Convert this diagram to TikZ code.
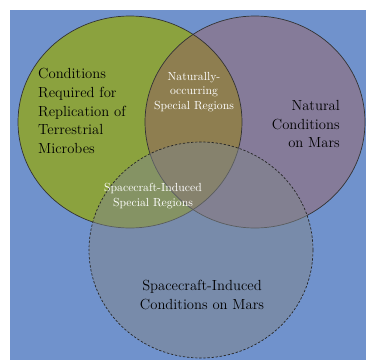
\documentclass[tikz,border=0pt]{standalone}
\definecolor{bgblue}{RGB}{112,146,204}
\definecolor{microbegreen}{RGB}{139,162,62}
\definecolor{marspurple}{RGB}{133,123,153}
\definecolor{overlapbrown}{RGB}{142,126,80}
\definecolor{craftgrey}{RGB}{128,134,138}

\begin{document}
\begin{tikzpicture}[x=0.03cm, y=-0.03cm,
  outerlabel/.style={inner sep=0pt, font=\fontsize{12.5}{16}\selectfont},
  innerlabel/.style={inner sep=0pt, text=white, align=center, font=\fontsize{10}{12.5}\selectfont}]
\useasboundingbox (0,0) rectangle (366,360);
\fill[white] (0,0) rectangle (366,360);
\fill[bgblue] (10,10) rectangle (366,360);

\coordinate (greenc) at (130,122);
\coordinate (purplec) at (255,122);
\coordinate (marsc) at (201,250);

% the two upper sets
\fill[microbegreen] (greenc) ellipse [x radius=112, y radius=106];
\fill[marspurple] (purplec) ellipse [x radius=110, y radius=106];
\begin{scope}
\clip (greenc) ellipse [x radius=112, y radius=106];
\fill[overlapbrown] (purplec) ellipse [x radius=110, y radius=106];
\end{scope}
\draw[black!80, line width=0.6pt] (greenc) ellipse [x radius=112, y radius=106];
\draw[black!80, line width=0.6pt] (purplec) ellipse [x radius=110, y radius=106];

% spacecraft set
\fill[craftgrey, fill opacity=0.5] (marsc) ellipse [x radius=112, y radius=108];
\draw[black!85, line width=0.6pt, dash pattern=on 2pt off 1.5pt] (marsc) ellipse [x radius=112, y radius=108];

\node (microbes) [outerlabel, anchor=west, align=left] at (38,111) {Conditions\\Required for\\Replication of\\Terrestrial\\Microbes};
\node (natural) [outerlabel, anchor=east, align=right] at (340,124) {Natural\\Conditions\\on Mars};
\node (induced) [outerlabel, align=center] at (202,295) {Spacecraft-Induced\\Conditions on Mars};
\node (naturalsr) [innerlabel] at (194,92) {Naturally-\\occurring\\Special Regions};
\node (inducedsr) [innerlabel] at (153,196) {Spacecraft-Induced\\Special Regions};
\end{tikzpicture}
\end{document}
